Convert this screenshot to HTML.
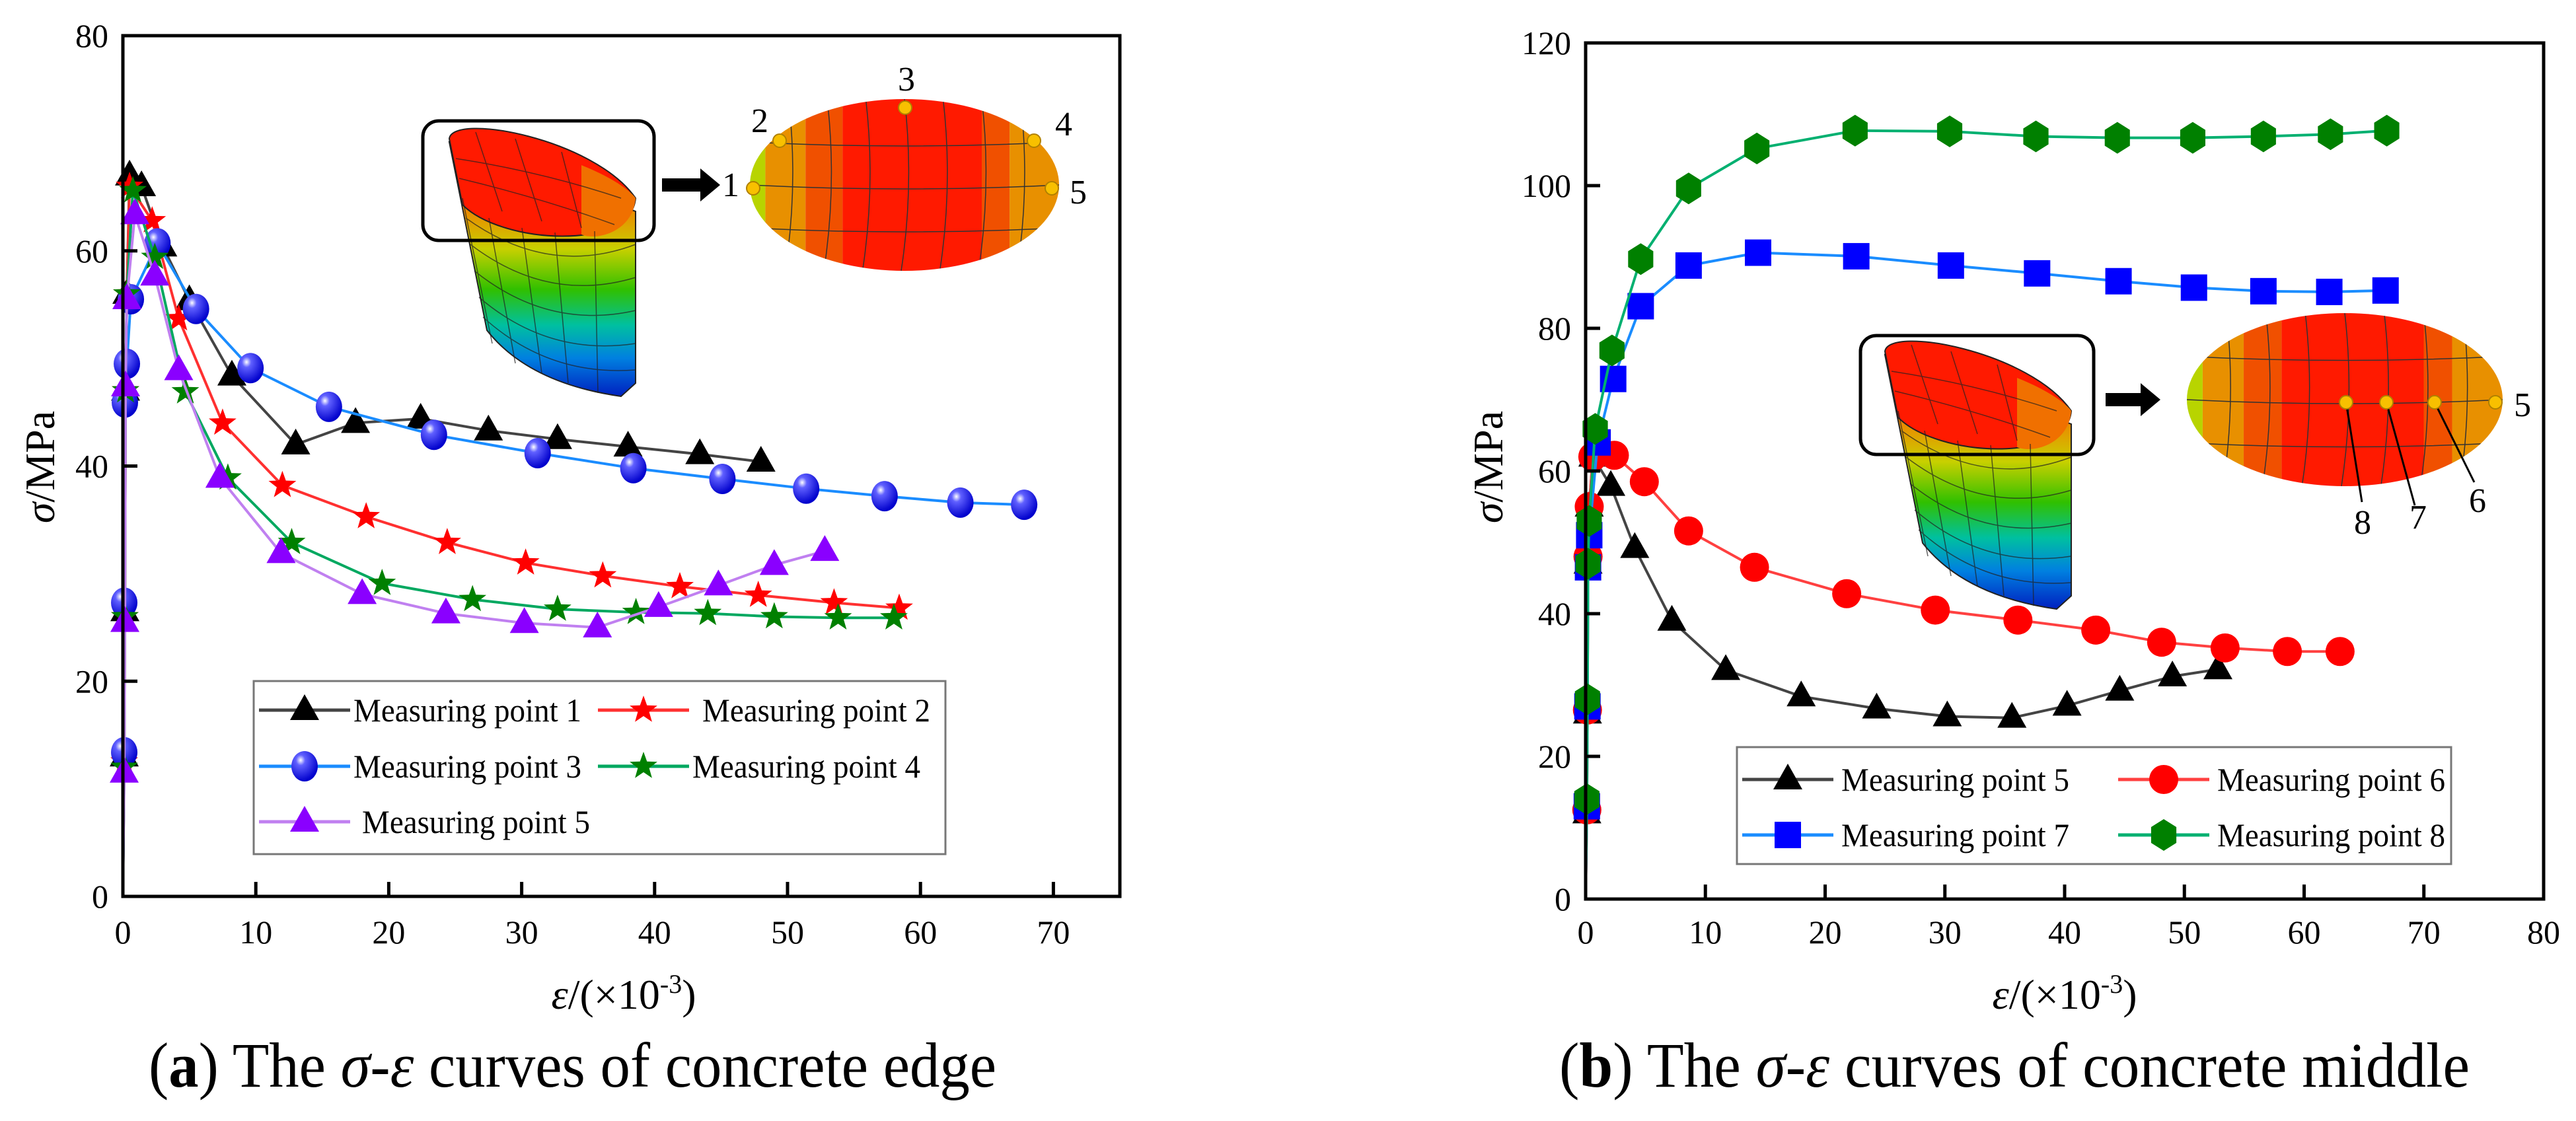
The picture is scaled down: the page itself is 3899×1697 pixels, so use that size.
<!DOCTYPE html>
<html><head><meta charset="utf-8"><style>
html,body{margin:0;padding:0;background:#fff;}
svg{display:block;font-family:"Liberation Serif",serif;}
svg text{font-family:"Liberation Serif",serif;}
</style></head><body>
<svg id="fig" width="3899" height="1697" viewBox="0 0 3899 1697" xmlns="http://www.w3.org/2000/svg">
<defs>
  <radialGradient id="ball" cx="0.35" cy="0.3" r="0.7">
    <stop offset="0" stop-color="#ffffff"/><stop offset="0.25" stop-color="#6060ff"/><stop offset="1" stop-color="#0000cc"/>
  </radialGradient>
  <linearGradient id="bodyGrad" x1="0" y1="0" x2="0" y2="1">
    <stop offset="0" stop-color="#ff2000"/><stop offset="0.25" stop-color="#f08000"/><stop offset="0.42" stop-color="#c8d000"/>
    <stop offset="0.58" stop-color="#30c000"/><stop offset="0.72" stop-color="#00c0a0"/><stop offset="0.85" stop-color="#0080e0"/><stop offset="1" stop-color="#0020c0"/>
  </linearGradient>
  <g id="cyl">
    <path d="M680,215 L737,500 Q800,580 940,600 L962,580 L962,320 Z" fill="url(#bodyGrad)" stroke="#222" stroke-width="2"/>
    <path d="M680,210 C685,170 900,210 962,300 C955,380 760,370 700,310 Z" fill="#ff1a00" stroke="#222" stroke-width="2"/>
    <path d="M880,250 C930,270 955,290 962,300 C958,350 905,365 880,355 Z" fill="#f07000"/>
    <g stroke="#222" stroke-width="1.5" fill="none" opacity="0.7">
      <path d="M700,300 L745,520"/><path d="M740,330 L780,550"/><path d="M790,345 L820,565"/><path d="M840,352 L860,580"/><path d="M900,350 L905,595"/>
      <path d="M705,330 Q830,420 962,370"/><path d="M712,370 Q830,460 962,420"/><path d="M718,410 Q830,500 962,470"/><path d="M725,450 Q830,540 962,520"/><path d="M731,480 Q830,570 962,560"/>
      <path d="M720,200 L760,320"/><path d="M780,210 L820,335"/><path d="M850,230 L880,345"/><path d="M690,240 Q820,260 940,300"/><path d="M695,270 Q820,300 930,340"/>
    </g>
  </g>
</defs>
</svg>
<script>
// ---------- data (chart a) ----------
const aX1=[0,0.1,0.15,0.2,0.3,0.5,1.4,3,5,8.2,13,17.5,22.4,27.5,32.7,38,43.4,48];
const aY1=[0,13,26.5,47,56,67,66,60.4,55.4,48.4,42,44,44.4,43.3,42.5,41.8,41.1,40.4];
const aX2=[0,0.1,0.15,0.2,0.3,0.5,2.2,4.2,7.5,12,18.3,24.4,30.3,36.1,41.9,47.8,53.5,58.4];
const aY2=[0,12.5,26,47,56,66,62.8,53.7,44,38.2,35.3,32.9,31,29.8,28.8,28,27.3,26.8];
const aX3=[0,0.1,0.1,0.15,0.3,0.6,2.6,5.5,9.6,15.5,23.4,31.2,38.4,45.1,51.4,57.3,63,67.8];
const aY3=[0,13.4,27.3,45.9,49.5,55.5,60.7,54.6,49.1,45.5,42.9,41.2,39.8,38.8,37.9,37.2,36.6,36.4];
const aX4=[0,0.1,0.15,0.2,0.3,0.75,2.4,4.7,7.9,12.7,19.5,26.3,32.7,38.6,44,49,53.8,58];
const aY4=[0,12,26,47,56,65.6,59.4,46.9,38.9,32.9,29.1,27.6,26.7,26.4,26.3,26,25.9,25.9];
const aX5=[0,0.1,0.15,0.2,0.3,0.9,2.4,4.2,7.3,11.9,18,24.3,30.2,35.7,40.3,44.8,49,52.8];
const aY5=[0,11.5,25.5,47.4,55.5,63.4,57.7,48.9,38.9,31.9,28.1,26.3,25.4,25,26.9,28.9,30.8,32.1];
const aXTicks=[0,10,20,30,40,50,60,70];
const aYTicks=[0,20,40,60,80];
// ---------- data (chart b) ----------
const bX5=[0,0.1,0.15,0.2,0.3,0.6,2.1,4.1,7.2,11.7,18,24.3,30.2,35.6,40.2,44.6,49,52.8];
const bY5=[0,12,26,47,55,62,57.9,49.2,39,32.1,28.4,26.7,25.6,25.4,27.1,29.2,31.2,32.2];
const bX6=[0,0.1,0.15,0.2,0.3,0.6,2.4,4.9,8.6,14.1,21.8,29.2,36.1,42.6,48.1,53.4,58.6,63];
const bY6=[0,12.5,26.5,48,55,62,62.2,58.5,51.6,46.5,42.8,40.5,39.1,37.7,36,35.2,34.7,34.7];
const bX7=[0,0.1,0.15,0.2,0.3,1,2.3,4.6,8.6,14.4,22.6,30.5,37.7,44.5,50.8,56.6,62.1,66.8];
const bY7=[0,13,27,46.5,51,64,72.9,83.1,88.8,90.6,90.1,88.8,87.7,86.6,85.7,85.2,85.1,85.3];
const bX8=[0,0.1,0.15,0.2,0.3,0.8,2.2,4.6,8.6,14.3,22.5,30.4,37.6,44.4,50.7,56.6,62.2,66.9];
const bY8=[0,14,28,47,53,65.9,76.9,89.7,99.6,105.2,107.7,107.6,106.9,106.7,106.7,106.9,107.2,107.7];
const bXTicks=[0,10,20,30,40,50,60,70,80];
const bYTicks=[0,20,40,60,80,100,120];

const NS="http://www.w3.org/2000/svg";
const svg=document.getElementById('fig');
function mk(tag,attrs,parent){const e=document.createElementNS(NS,tag);for(const k in attrs)e.setAttribute(k,attrs[k]);(parent||svg).appendChild(e);return e;}
function txt(s,attrs,parent){attrs['font-family']='Liberation Serif, serif';const e=mk('text',attrs,parent);e.textContent=s;return e;}

function marker(g,type,x,y,col){
  let e;
  if(type==='tri'){e=mk('polygon',{points:`${x},${y-24} ${x-22},${y+15} ${x+22},${y+15}`,fill:col},g);}
  else if(type==='star'){let p=[];for(let i=0;i<10;i++){const r=i%2?9:22;const a=-Math.PI/2+i*Math.PI/5;p.push((x+r*Math.cos(a)).toFixed(1)+','+(y+r*Math.sin(a)).toFixed(1));}e=mk('polygon',{points:p.join(' '),fill:col},g);}
  else if(type==='ball'){e=mk('ellipse',{cx:x,cy:y,rx:20,ry:23,fill:'url(#ball)'},g);}
  else if(type==='dot'){e=mk('circle',{cx:x,cy:y,r:22,fill:col},g);}
  else if(type==='sq'){e=mk('rect',{x:x-20,y:y-20,width:40,height:40,fill:col},g);}
  else if(type==='hex'){let p=[];for(let i=0;i<6;i++){const a=Math.PI/6+i*Math.PI/3;p.push((x+22*Math.cos(a)).toFixed(1)+','+(y+24*Math.sin(a)).toFixed(1));}e=mk('polygon',{points:p.join(' '),fill:col},g);}
  
  
  return e;
}

function chart(cfg){
  const {L,R,T,B,xmax,ymax,xTicks,yTicks,series,name}=cfg;
  const sx=v=>L+(v/xmax)*(R-L), sy=v=>B-(v/ymax)*(B-T);
  const g=mk('g',{});
  
  
  series.forEach(s=>{
    const sg=mk('g',{},g);
    
    
    const pts=s.x.map((v,i)=>sx(v).toFixed(1)+','+sy(s.y[i]).toFixed(1)).join(' ');
    const pl=mk('polyline',{points:pts,fill:'none',stroke:s.line,'stroke-width':4},sg);
    
    
    s.x.forEach((v,i)=>{ if(i>0) marker(sg,s.m,sx(v),sy(s.y[i]),s.col); });
  });
  const fr=mk('rect',{x:L,y:T,width:R-L,height:B-T,fill:'none',stroke:'#000','stroke-width':5},g);
  
  
  const xa=mk('g',{},g);
  
  
  xTicks.forEach(t=>{
    mk('line',{x1:sx(t),x2:sx(t),y1:B,y2:B-22,stroke:'#000','stroke-width':5},xa);
    const tl=txt(String(t),{x:sx(t),y:1428,'font-size':50,'text-anchor':'middle'},xa);
    
    
  });
  const ya=mk('g',{},g);
  
  
  yTicks.forEach(t=>{
    mk('line',{x1:L,x2:L+22,y1:sy(t),y2:sy(t),stroke:'#000','stroke-width':5},ya);
    const tl=txt(String(t),{x:L-22,y:sy(t)+17,'font-size':50,'text-anchor':'end'},ya);
    
    
  });
  return g;
}

chart({name:'chart-a',L:186,R:1695,T:54,B:1357,xmax:75,ymax:80,xTicks:aXTicks,yTicks:aYTicks,series:[
  {name:'series-mp1',x:aX1,y:aY1,m:'tri',col:'#000',line:'#444'},
  {name:'series-mp2',x:aX2,y:aY2,m:'star',col:'#ff0000',line:'#ff3030'},
  {name:'series-mp3',x:aX3,y:aY3,m:'ball',col:'#0000ff',line:'#1a8cff'},
  {name:'series-mp4',x:aX4,y:aY4,m:'star',col:'#008000',line:'#00a860'},
  {name:'series-mp5',x:aX5,y:aY5,m:'tri',col:'#8a00ff',line:'#c080f0'}]});
chart({name:'chart-b',L:2400,R:3850,T:65,B:1361,xmax:80,ymax:120,xTicks:bXTicks,yTicks:bYTicks,series:[
  {name:'series-b-mp5',x:bX5,y:bY5,m:'tri',col:'#000',line:'#444'},
  {name:'series-b-mp6',x:bX6,y:bY6,m:'dot',col:'#ff0000',line:'#ff4040'},
  {name:'series-b-mp7',x:bX7,y:bY7,m:'sq',col:'#0000ff',line:'#1a8cff'},
  {name:'series-b-mp8',x:bX8,y:bY8,m:'hex',col:'#008000',line:'#00b070'}]});

function legend(name,box,items){
  const g=mk('g',{});
  
  
  mk('rect',{x:box[0],y:box[1],width:box[2],height:box[3],fill:'#fff',stroke:'#777','stroke-width':3},g);
  items.forEach(it=>{
    const eg=mk('g',{},g);
    
    
    mk('line',{x1:it.lx,x2:it.lx+138,y1:it.y,y2:it.y,stroke:it.line,'stroke-width':5},eg);
    marker(eg,it.m,it.lx+69,it.y,it.col);
    txt(it.t,{x:it.tx,y:it.y+17,'font-size':50,textLength:345,lengthAdjust:'spacingAndGlyphs'},eg);
  });
}
legend('legend-a',[384,1031,1047,262],[
  {t:'Measuring point 1',lx:392,tx:535,y:1075,m:'tri',col:'#000',line:'#444'},
  {t:'Measuring point 2',lx:905,tx:1063,y:1075,m:'star',col:'#f00',line:'#ff3030'},
  {t:'Measuring point 3',lx:392,tx:535,y:1160,m:'ball',col:'#00f',line:'#1a8cff'},
  {t:'Measuring point 4',lx:905,tx:1048,y:1160,m:'star',col:'#008000',line:'#00a860'},
  {t:'Measuring point 5',lx:392,tx:548,y:1244,m:'tri',col:'#8a00ff',line:'#c080f0'}]);
legend('legend-b',[2629,1131,1081,177],[
  {t:'Measuring point 5',lx:2637,tx:2787,y:1180,m:'tri',col:'#000',line:'#444'},
  {t:'Measuring point 6',lx:3206,tx:3356,y:1180,m:'dot',col:'#f00',line:'#ff4040'},
  {t:'Measuring point 7',lx:2637,tx:2787,y:1264,m:'sq',col:'#00f',line:'#1a8cff'},
  {t:'Measuring point 8',lx:3206,tx:3356,y:1264,m:'hex',col:'#008000',line:'#00b070'}]);

function ellipseFace(name,cx,cy,rx,ry){
  const g=mk('g',{});
  
  
  const id='clip'+name;
  const cp=mk('clipPath',{id:id},g);mk('ellipse',{cx,cy,rx,ry},cp);
  const gg=mk('g',{'clip-path':`url(#${id})`},g);
  const bands=[[0,0.05,'#b8d400'],[0.05,0.18,'#e89000'],[0.18,0.3,'#f05000'],[0.3,0.75,'#ff1a00'],[0.75,0.84,'#f05000'],[0.84,1,'#e89000']];
  bands.forEach(b=>mk('rect',{x:cx-rx+b[0]*2*rx,y:cy-ry,width:(b[1]-b[0])*2*rx,height:2*ry,fill:b[2]},gg));
  for(let i=1;i<8;i++)mk('path',{d:`M${cx-rx+i*rx/4},${cy-ry} Q${cx-rx+i*rx/4+15},${cy} ${cx-rx+i*rx/4-5},${cy+ry}`,stroke:'#333','stroke-width':1.5,fill:'none'},gg);
  for(let j=1;j<4;j++)mk('path',{d:`M${cx-rx},${cy-ry+j*ry/2} Q${cx},${cy-ry+j*ry/2+12} ${cx+rx},${cy-ry+j*ry/2}`,stroke:'#333','stroke-width':1.5,fill:'none'},gg);
  return g;
}
const ia=mk('g',{});


mk('use',{href:'#cyl'},ia);
mk('rect',{x:640,y:183,width:350,height:181,rx:24,fill:'none',stroke:'#000','stroke-width':5},ia);
mk('polygon',{points:'1002,270 1060,270 1060,255 1090,280 1060,305 1060,290 1002,290',fill:'#000'},ia);
ia.appendChild(ellipseFace('section-a',1369,280,234,130));
[[1140,285],[1180,213],[1370,163],[1565,213],[1592,285]].forEach(p=>mk('circle',{cx:p[0],cy:p[1],r:10,fill:'#f8c000',stroke:'#b08000','stroke-width':2},ia));
[['1',1106,297],['2',1150,200],['3',1372,137],['4',1610,205],['5',1632,308]].forEach(l=>txt(l[0],{x:l[1],y:l[2],'font-size':52,'text-anchor':'middle'},ia));
const ib=mk('g',{});


mk('use',{href:'#cyl',transform:'translate(2173,322)'},ib);
mk('rect',{x:2816,y:508,width:353,height:180,rx:24,fill:'none',stroke:'#000','stroke-width':5},ib);
mk('polygon',{points:'3187,595 3240,595 3240,580 3270,605 3240,630 3240,615 3187,615',fill:'#000'},ib);
ib.appendChild(ellipseFace('section-b',3549,605,239,131));
[[3551,609,3575,760],[3612,609,3655,765],[3685,609,3745,730]].forEach(p=>{mk('line',{x1:p[0],y1:p[1],x2:p[2],y2:p[3],stroke:'#000','stroke-width':3},ib);});
[[3551,609],[3612,609],[3685,609],[3777,609]].forEach(p=>mk('circle',{cx:p[0],cy:p[1],r:10,fill:'#f8c000',stroke:'#b08000','stroke-width':2},ib));
[['5',3818,630],['6',3750,775],['7',3660,800],['8',3576,808]].forEach(l=>txt(l[0],{x:l[1],y:l[2],'font-size':52,'text-anchor':'middle'},ib));

function axTitle(name,x,y,rot,html){
  const t=mk('text',{x:x,y:y,'font-size':64,'font-family':'Liberation Serif, serif','text-anchor':'middle',transform:rot?`rotate(-90 ${x} ${y})`:''});
  
  
  t.innerHTML=html;
}
axTitle('x-axis-title-a',944,1527,false,'<tspan font-style="italic">ε</tspan>/(×10<tspan dy="-24" font-size="40">-3</tspan><tspan dy="24">)</tspan>');
axTitle('y-axis-title-a',82,707,true,'<tspan font-style="italic">σ</tspan>/MPa');
axTitle('x-axis-title-b',3125,1527,false,'<tspan font-style="italic">ε</tspan>/(×10<tspan dy="-24" font-size="40">-3</tspan><tspan dy="24">)</tspan>');
axTitle('y-axis-title-b',2274,707,true,'<tspan font-style="italic">σ</tspan>/MPa');
function caption(name,x,y,len,letter,rest){
  const t=mk('text',{x:x,y:y,'font-size':96,'font-family':'Liberation Serif, serif',textLength:len,lengthAdjust:'spacingAndGlyphs'});
  
  
  t.innerHTML='(<tspan font-weight="bold">'+letter+'</tspan>) The <tspan font-style="italic">σ</tspan>-<tspan font-style="italic">ε</tspan> curves of concrete '+rest;
}
caption('caption-a',225,1645,1283,'a','edge');
caption('caption-b',2360,1645,1378,'b','middle');
</script>
</body></html>
